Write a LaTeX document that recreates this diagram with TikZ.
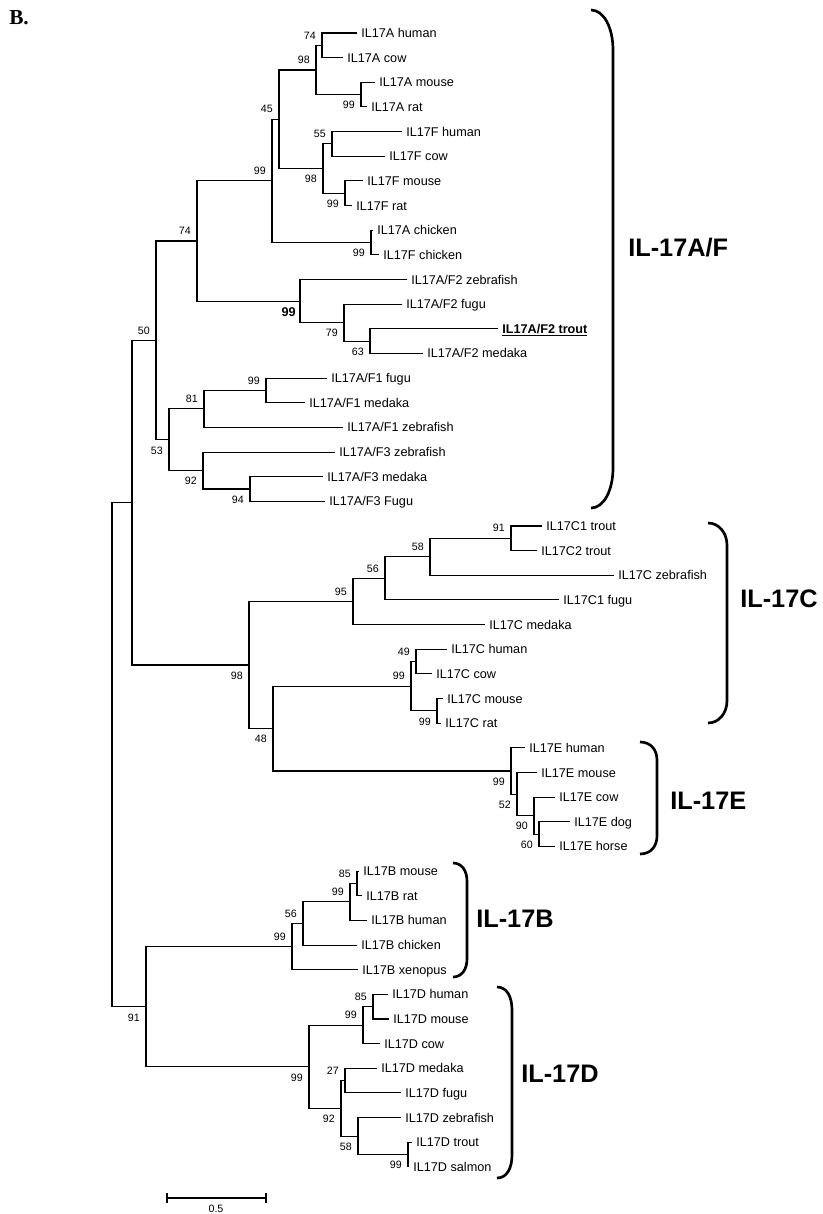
\documentclass[tikz,border=0pt]{standalone}
\usepackage{fontspec}
\setmainfont{Liberation Sans}
\newfontfamily\panelfont{Liberation Serif}

\begin{document}
\begin{tikzpicture}[x=0.75pt,y=-0.75pt,
  branch/.style={line width=0.8pt},
  leaf/.style={anchor=west,inner xsep=3pt,inner ysep=0pt,text height=6.8pt,text depth=0pt,font=\fontsize{9.5}{11}\selectfont},
  bsup/.style={anchor=south east,inner sep=0pt,xshift=-4.5pt,yshift=4.5pt,font=\fontsize{8}{9}\selectfont},
  bsdown/.style={anchor=north east,inner sep=0pt,xshift=-4.5pt,yshift=-5pt,font=\fontsize{8}{9}\selectfont},
  cladebrace/.style={line width=2pt},
  clade/.style={anchor=west,inner sep=0pt,text height=13.6pt,text depth=0pt,font=\fontsize{19}{22}\selectfont\bfseries}]
\useasboundingbox (0,0) rectangle (822,1214);

\node[anchor=base west,inner sep=0pt,font=\panelfont\fontsize{16}{18}\selectfont\bfseries] (panel) at (9,24) {B.};

% leaves, IL-17A/F
\node[leaf] (Ahum) at (357,33) {IL17A human};
\node[leaf] (Acow) at (343,57.65) {IL17A cow};
\node[leaf] (Amou) at (375,82.3) {IL17A mouse};
\node[leaf] (Arat) at (367,106.95) {IL17A rat};
\node[leaf] (Fhum) at (402,131.6) {IL17F human};
\node[leaf] (Fcow) at (385,156.25) {IL17F cow};
\node[leaf] (Fmou) at (363,180.9) {IL17F mouse};
\node[leaf] (Frat) at (352,205.55) {IL17F rat};
\node[leaf] (Achi) at (373,230.2) {IL17A chicken};
\node[leaf] (Fchi) at (379,254.85) {IL17F chicken};
\node[leaf] (F2zeb) at (407,279.5) {IL17A/F2 zebrafish};
\node[leaf] (F2fug) at (402,304.15) {IL17A/F2 fugu};
\node[leaf,font=\fontsize{9.5}{11}\selectfont\bfseries] (F2tro) at (498,328.8) {\underline{IL17A/F2 trout}};
\node[leaf] (F2med) at (423,353.45) {IL17A/F2 medaka};
\node[leaf] (F1fug) at (327,378.1) {IL17A/F1 fugu};
\node[leaf] (F1med) at (305,402.75) {IL17A/F1 medaka};
\node[leaf] (F1zeb) at (343,427.4) {IL17A/F1 zebrafish};
\node[leaf] (F3zeb) at (335,452.05) {IL17A/F3 zebrafish};
\node[leaf] (F3med) at (323,476.7) {IL17A/F3 medaka};
\node[leaf] (F3fug) at (325,501.35) {IL17A/F3 Fugu};
% leaves, IL-17C
\node[leaf] (C1tro) at (542,526) {IL17C1 trout};
\node[leaf] (C2tro) at (537,550.65) {IL17C2 trout};
\node[leaf] (Czeb) at (614,575.3) {IL17C zebrafish};
\node[leaf] (C1fug) at (559,599.95) {IL17C1 fugu};
\node[leaf] (Cmed) at (485,624.6) {IL17C medaka};
\node[leaf] (Chum) at (447,649.25) {IL17C human};
\node[leaf] (Ccow) at (432,673.9) {IL17C cow};
\node[leaf] (Cmou) at (443,698.55) {IL17C mouse};
\node[leaf] (Crat) at (441,723.2) {IL17C rat};
% leaves, IL-17E
\node[leaf] (Ehum) at (525,747.85) {IL17E human};
\node[leaf] (Emou) at (537,772.5) {IL17E mouse};
\node[leaf] (Ecow) at (555,797.15) {IL17E cow};
\node[leaf] (Edog) at (570,821.8) {IL17E dog};
\node[leaf] (Ehor) at (555,846.45) {IL17E horse};
% leaves, IL-17B
\node[leaf] (Bmou) at (359,871.1) {IL17B mouse};
\node[leaf] (Brat) at (362,895.75) {IL17B rat};
\node[leaf] (Bhum) at (367,920.4) {IL17B human};
\node[leaf] (Bchi) at (357,945.05) {IL17B chicken};
\node[leaf] (Bxen) at (358,969.7) {IL17B xenopus};
% leaves, IL-17D
\node[leaf] (Dhum) at (388,994.35) {IL17D human};
\node[leaf] (Dmou) at (389,1019) {IL17D mouse};
\node[leaf] (Dcow) at (380,1043.65) {IL17D cow};
\node[leaf] (Dmed) at (377,1068.3) {IL17D medaka};
\node[leaf] (Dfug) at (401,1092.95) {IL17D fugu};
\node[leaf] (Dzeb) at (401,1117.6) {IL17D zebrafish};
\node[leaf] (Dtro) at (412,1142.25) {IL17D trout};
\node[leaf] (Dsal) at (409,1166.9) {IL17D salmon};

% inner nodes
\coordinate (nAhc) at (322,45.3);
\coordinate (nAmr) at (361,94.6);
\coordinate (nA) at (316,70);
\coordinate (nFhc) at (332,143.9);
\coordinate (nFmr) at (345,193.2);
\coordinate (nF) at (323,168.6);
\coordinate (nAF) at (279,119.3);
\coordinate (nCh) at (371,242.5);
\coordinate (nAFc) at (272,180.9);
\coordinate (n63) at (370,341.1);
\coordinate (n79) at (344,322.6);
\coordinate (nF2) at (300,301.1);
\coordinate (nTet) at (197,241);
\coordinate (nF1fm) at (266,390.4);
\coordinate (nF1) at (204,408.9);
\coordinate (nF3mf) at (250,489);
\coordinate (nF3) at (203,470.5);
\coordinate (nF13) at (169,439.7);
\coordinate (nAFall) at (156,340.4);
\coordinate (nCtr) at (511,538.3);
\coordinate (nC58) at (430,556.8);
\coordinate (nC56) at (385,578.4);
\coordinate (nCfish) at (353,601.5);
\coordinate (nChc) at (416,661.6);
\coordinate (nCmr) at (437,710.9);
\coordinate (nCmam) at (411,686.2);
\coordinate (nE60) at (539,834.1);
\coordinate (nE90) at (534,815.6);
\coordinate (nE52) at (517,794.1);
\coordinate (nE) at (511,771);
\coordinate (nCmE) at (273,728.6);
\coordinate (nCE) at (249,665);
\coordinate (nUp) at (132,502.7);
\coordinate (nB85) at (357,883.4);
\coordinate (nB99) at (350,901.9);
\coordinate (nB56) at (303,923.5);
\coordinate (nB) at (292,946.6);
\coordinate (nD85) at (373,1006.7);
\coordinate (nDmam) at (363,1025.2);
\coordinate (nD27) at (345,1080.6);
\coordinate (nDts) at (408,1154.6);
\coordinate (nD58) at (358,1136.1);
\coordinate (nD92) at (341,1108.4);
\coordinate (nD) at (309,1066.8);
\coordinate (nBD) at (146,1006.7);
\coordinate (nRoot) at (112,754.7);

% branches
\draw[branch] (Ahum.west) -| (nAhc) |- (Acow.west);
\draw[branch] (Amou.west) -| (nAmr) |- (Arat.west);
\draw[branch] (nAhc) -| (nA) |- (nAmr);
\draw[branch] (Fhum.west) -| (nFhc) |- (Fcow.west);
\draw[branch] (Fmou.west) -| (nFmr) |- (Frat.west);
\draw[branch] (nFhc) -| (nF) |- (nFmr);
\draw[branch] (nA) -| (nAF) |- (nF);
\draw[branch] (Achi.west) -| (nCh) |- (Fchi.west);
\draw[branch] (nAF) -| (nAFc) |- (nCh);
\draw[branch] (F2tro.west) -| (n63) |- (F2med.west);
\draw[branch] (F2fug.west) -| (n79) |- (n63);
\draw[branch] (F2zeb.west) -| (nF2) |- (n79);
\draw[branch] (nAFc) -| (nTet) |- (nF2);
\draw[branch] (F1fug.west) -| (nF1fm) |- (F1med.west);
\draw[branch] (nF1fm) -| (nF1) |- (F1zeb.west);
\draw[branch] (F3med.west) -| (nF3mf) |- (F3fug.west);
\draw[branch] (F3zeb.west) -| (nF3) |- (nF3mf);
\draw[branch] (nF1) -| (nF13) |- (nF3);
\draw[branch] (nTet) -| (nAFall) |- (nF13);
\draw[branch] (C1tro.west) -| (nCtr) |- (C2tro.west);
\draw[branch] (nCtr) -| (nC58) |- (Czeb.west);
\draw[branch] (nC58) -| (nC56) |- (C1fug.west);
\draw[branch] (nC56) -| (nCfish) |- (Cmed.west);
\draw[branch] (Chum.west) -| (nChc) |- (Ccow.west);
\draw[branch] (Cmou.west) -| (nCmr) |- (Crat.west);
\draw[branch] (nChc) -| (nCmam) |- (nCmr);
\draw[branch] (Edog.west) -| (nE60) |- (Ehor.west);
\draw[branch] (Ecow.west) -| (nE90) |- (nE60);
\draw[branch] (Emou.west) -| (nE52) |- (nE90);
\draw[branch] (Ehum.west) -| (nE) |- (nE52);
\draw[branch] (nCmam) -| (nCmE) |- (nE);
\draw[branch] (nCfish) -| (nCE) |- (nCmE);
\draw[branch] (nAFall) -| (nUp) |- (nCE);
\draw[branch] (Bmou.west) -| (nB85) |- (Brat.west);
\draw[branch] (nB85) -| (nB99) |- (Bhum.west);
\draw[branch] (nB99) -| (nB56) |- (Bchi.west);
\draw[branch] (nB56) -| (nB) |- (Bxen.west);
\draw[branch] (Dhum.west) -| (nD85) |- (Dmou.west);
\draw[branch] (nD85) -| (nDmam) |- (Dcow.west);
\draw[branch] (Dmed.west) -| (nD27) |- (Dfug.west);
\draw[branch] (Dtro.west) -| (nDts) |- (Dsal.west);
\draw[branch] (Dzeb.west) -| (nD58) |- (nDts);
\draw[branch] (nD27) -| (nD92) |- (nD58);
\draw[branch] (nDmam) -| (nD) |- (nD92);
\draw[branch] (nB) -| (nBD) |- (nD);
\draw[branch] (nUp) -| (nRoot) |- (nBD);

% bootstrap values
\node[bsup] (bAhc) at (nAhc) {74};
\node[bsdown] (bAmr) at (nAmr) {99};
\node[bsup] (bA) at (nA) {98};
\node[bsup] (bFhc) at (nFhc) {55};
\node[bsdown] (bFmr) at (nFmr) {99};
\node[bsdown] (bF) at (nF) {98};
\node[bsup] (bAF) at (nAF) {45};
\node[bsdown] (bCh) at (nCh) {99};
\node[bsup] (bAFc) at (nAFc) {99};
\node[bsdown] (b63) at (n63) {63};
\node[bsdown] (b79) at (n79) {79};
\node[bsdown,xshift=1.5pt,font=\fontsize{9.5}{11}\selectfont\bfseries] (bF2) at (nF2) {99};
\node[bsup] (bTet) at (nTet) {74};
\node[bsup] (bF1fm) at (nF1fm) {99};
\node[bsup] (bF1) at (nF1) {81};
\node[bsdown] (bF3mf) at (nF3mf) {94};
\node[bsdown] (bF3) at (nF3) {92};
\node[bsdown] (bF13) at (nF13) {53};
\node[bsup] (bAFall) at (nAFall) {50};
\node[bsup] (bCtr) at (nCtr) {91};
\node[bsup] (bC58) at (nC58) {58};
\node[bsup] (bC56) at (nC56) {56};
\node[bsup] (bCfish) at (nCfish) {95};
\node[bsup] (bChc) at (nChc) {49};
\node[bsdown] (bCmr) at (nCmr) {99};
\node[bsup] (bCmam) at (nCmam) {99};
\node[bsdown] (bE60) at (nE60) {60};
\node[bsdown] (bE90) at (nE90) {90};
\node[bsdown] (bE52) at (nE52) {52};
\node[bsdown] (bE) at (nE) {99};
\node[bsdown] (bCmE) at (nCmE) {48};
\node[bsdown] (bCE) at (nCE) {98};
\node[bsup] (bB85) at (nB85) {85};
\node[bsup] (bB99) at (nB99) {99};
\node[bsup] (bB56) at (nB56) {56};
\node[bsup] (bB) at (nB) {99};
\node[bsup] (bD85) at (nD85) {85};
\node[bsup] (bDmam) at (nDmam) {99};
\node[bsup] (bD27) at (nD27) {27};
\node[bsdown] (bDts) at (nDts) {99};
\node[bsdown] (bD58) at (nD58) {58};
\node[bsdown] (bD92) at (nD92) {92};
\node[bsdown] (bD) at (nD) {99};
\node[bsdown] (bBD) at (nBD) {91};

% clade braces
\draw[cladebrace] (591,10) .. controls (604,10) and (613,28) .. (613,50) -- (613,468) .. controls (613,490) and (604,508) .. (591,508);
\draw[cladebrace] (708,523) .. controls (719,523) and (727,533) .. (727,545) -- (727,701) .. controls (727,713) and (719,723) .. (708,723);
\draw[cladebrace] (640,742) .. controls (651,742) and (657,750) .. (657,760) -- (657,836) .. controls (657,846) and (651,854) .. (640,854);
\draw[cladebrace] (453,863) .. controls (462,863) and (467,871) .. (467,881) -- (467,959) .. controls (467,969) and (462,977) .. (453,977);
\draw[cladebrace] (497,987) .. controls (507,987) and (512,997) .. (512,1010) -- (512,1155) .. controls (512,1168) and (507,1178) .. (497,1178);
\node[clade] (cAF) at (628,247) {IL-17A/F};
\node[clade] (cC) at (740,598) {IL-17C};
\node[clade] (cE) at (670,800) {IL-17E};
\node[clade] (cB) at (476,918) {IL-17B};
\node[clade] (cD) at (521,1073) {IL-17D};

% scale bar
\coordinate (sbL) at (167,1198);
\coordinate (sbR) at (266,1198);
\draw[branch] (sbL) -- (sbR);
\draw[branch] ([yshift=3.5pt]sbL) -- ([yshift=-3.5pt]sbL);
\draw[branch] ([yshift=3.5pt]sbR) -- ([yshift=-3.5pt]sbR);
\node[inner sep=0pt,font=\fontsize{8}{9}\selectfont] (sblab) at (216,1209) {0.5};
\end{tikzpicture}
\end{document}
